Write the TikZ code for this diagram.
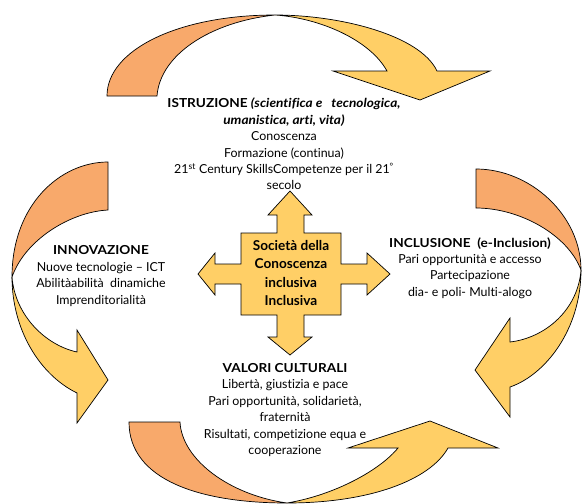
\documentclass[tikz,border=0pt]{standalone}
\usepackage{fontspec}
\setmainfont{Lato}[RawFeature={-liga;-dlig;-clig}]
\newfontfamily\headfont{Lato}[FakeStretch=1.1, RawFeature={-liga;-dlig;-clig}]
\newcommand{\hd}[1]{{\headfont\bfseries #1}}
\newcommand{\hdi}[1]{{\headfont\bfseries\itshape #1}}
\definecolor{tailorange}{HTML}{F8A96B}
\definecolor{headyellow}{HTML}{FFCF66}
\begin{document}
\begin{tikzpicture}[x=1pt,y=-1pt,
  outl/.style={draw=black, line width=0.7pt, line join=miter},
  tailpart/.style={outl, fill=tailorange},
  headpart/.style={outl, fill=headyellow},
  lbl/.style={align=center, inner sep=0pt, font=\fontsize{12.4}{16.4}\selectfont},
  hub/.style={align=center, inner sep=0pt, font=\fontsize{13.6}{18.5}\selectfont\bfseries},
]
\useasboundingbox (0,0) rectangle (582,504);

% ---- top curved arrow (pointing down-right) ----
\path[tailpart] (107,96) .. controls (107,50) and (178,15) .. (275,15)
  .. controls (210,22) and (160,55) .. (157,96) -- cycle;
\path[headpart] (275,15) .. controls (340,15) and (420,35) .. (437,71)
  -- (490,71) -- (420,100) -- (333,71) -- (387,71)
  .. controls (370,40) and (320,18) .. (275,15) -- cycle;

% ---- right curved arrow (pointing down-left) ----
\path[tailpart] (476,169) .. controls (530,169) and (581,215) .. (581,270)
  .. controls (568,235) and (520,208) .. (476,208) -- cycle;
\path[headpart] (581,270) .. controls (581,330) and (545,375) .. (510,387)
  -- (510,417) -- (475,370) -- (510,318) -- (510,342)
  .. controls (545,338) and (578,310) .. (581,270) -- cycle;

% ---- bottom curved arrow (pointing up-right) ----
\path[tailpart] (129,422) .. controls (129,480) and (200,503) .. (287,503)
  .. controls (230,495) and (182,460) .. (180,422) -- cycle;
\path[headpart] (287,503) .. controls (370,503) and (430,480) .. (448,448)
  -- (498,448) -- (430,421) -- (348,448) -- (398,448)
  .. controls (380,470) and (335,495) .. (287,503) -- cycle;

% ---- left curved arrow (pointing down-right) ----
\path[tailpart] (108,162) .. controls (60,162) and (12,205) .. (12,277)
  .. controls (25,240) and (70,212) .. (108,210) -- cycle;
\path[headpart] (12,277) .. controls (12,330) and (40,375) .. (77,393)
  -- (77,423) -- (108,380) -- (77,330) -- (77,352)
  .. controls (45,345) and (15,315) .. (12,277) -- cycle;

% ---- central four-way arrow ----
\path[headpart]
  (241,233) -- (277,233) -- (277,215) -- (268,215) -- (290,191)
  -- (312,215) -- (304,215) -- (304,233) -- (341,233)
  -- (341,264) -- (367,264) -- (367,253) -- (390,274)
  -- (367,295) -- (367,284) -- (341,284) -- (341,315)
  -- (304,315) -- (304,337) -- (312,337) -- (290,355)
  -- (268,337) -- (277,337) -- (277,315) -- (241,315)
  -- (241,284) -- (215,284) -- (215,295) -- (198,274)
  -- (215,253) -- (215,264) -- (241,264) -- cycle;

\node[hub] (hubtext) at (291,273) {Società della\\Conoscenza\\inclusiva\\Inclusiva};

% ---- labels ----
\node[lbl] (istruzione) at (284,144) {%
  \hd{ISTRUZIONE} \hdi{(scientifica e\ \ \ tecnologica,}\\
  \hdi{umanistica, arti, vita)}\\
  Conoscenza\\
  Formazione (continua)\\
  21\textsuperscript{st} Century SkillsCompetenze per il 21\textsuperscript{°}\\
  secolo};

\node[lbl] (innovazione) at (101,276) {%
  \hd{INNOVAZIONE}\\
  Nuove tecnologie – ICT\\
  Abilitàabilità\ \ dinamiche\\
  Imprenditorialità};

\node[lbl] (inclusione) at (470,268) {%
  \hd{INCLUSIONE\ \ (e-Inclusion)}\\
  Pari opportunità e accesso\\
  Partecipazione\\
  dia- e poli- Multi-alogo};

\node[lbl] (valori) at (285,410) {%
  \hd{VALORI CULTURALI}\\
  Libertà, giustizia e pace\\
  Pari opportunità, solidarietà,\\
  fraternità\\
  Risultati, competizione equa e\\
  cooperazione};
\end{tikzpicture}
\end{document}
